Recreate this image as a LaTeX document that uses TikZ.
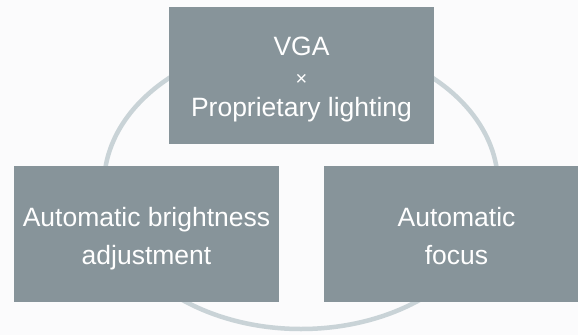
\documentclass[tikz,border=0pt]{standalone}
\usepackage{fontspec}
\setmainfont{Liberation Sans}
\definecolor{boxfill}{RGB}{135,148,154}
\definecolor{ringline}{RGB}{201,211,215}
\definecolor{paper}{RGB}{251,251,252}
% centred lines, set a given distance below the box middle
\newcommand{\droptext}[2]{\raisebox{-#1}[0pt][0pt]{\begin{tabular}{@{}c@{}}#2\end{tabular}}}
\begin{document}
\begin{tikzpicture}[x=1pt,y=-1pt,
  featurebox/.style={rectangle, fill=boxfill, text=white, align=center,
    minimum width=265pt, minimum height=136pt, inner sep=0pt,
    font=\fontsize{26.5}{38}\selectfont},
  ring/.style={draw=ringline, line width=4.5pt}]
  % page and background
  \clip (0,0) rectangle (578,335);
  \fill[paper] (0,0) rectangle (578,335);
  % ring behind the three boxes
  \draw[ring] (301,185) ellipse [x radius=197, y radius=144];
  % feature boxes
  \node[featurebox, minimum height=137pt, font=\fontsize{26.5}{31}\selectfont]
    (core) at (301.5,75.5)
    {\droptext{10.5pt}{VGA\\[-1pt]{\fontsize{20}{20}\selectfont ×}\\[0pt]Proprietary lighting}};
  \node[featurebox] (bright) at (146.5,234)
    {\droptext{10.5pt}{Automatic brightness\\adjustment}};
  \node[featurebox] (focus) at (456.5,234)
    {\droptext{10.5pt}{Automatic\\focus}};
\end{tikzpicture}
\end{document}
